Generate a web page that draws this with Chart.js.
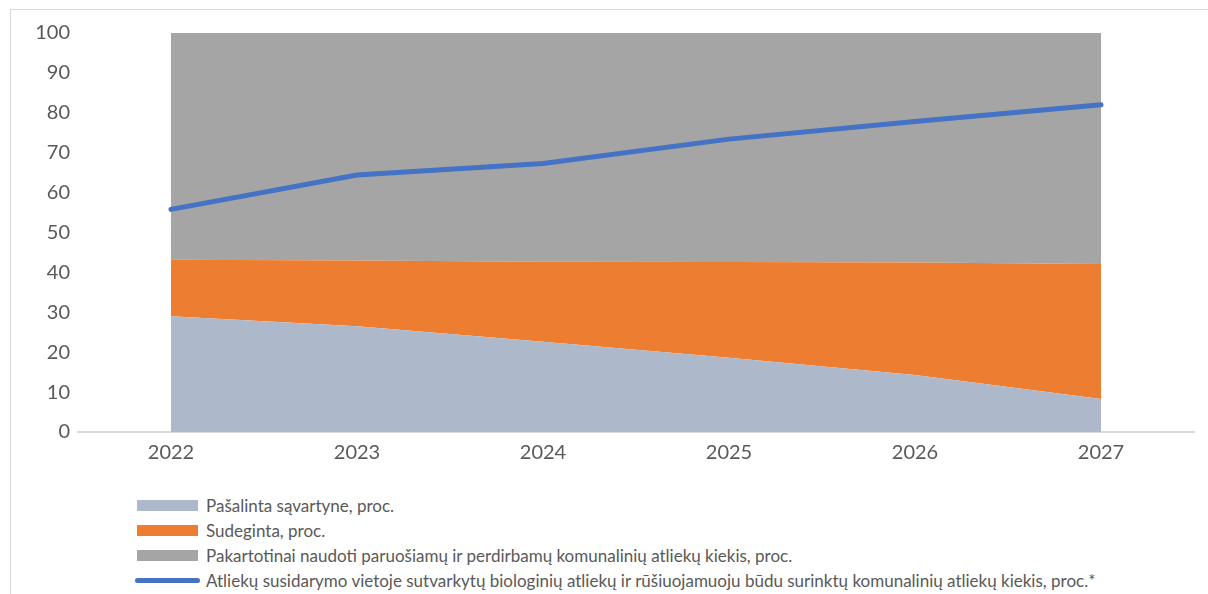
<!DOCTYPE html>
<html>
<head>
<meta charset="utf-8">
<script src="https://cdn.jsdelivr.net/npm/chart.js@4"></script>
<style>
  body { margin: 0; background: #fff; }
  #wrap { position: relative; width: 1208px; height: 594px; overflow: hidden; }
  #frame { position: absolute; left: 10px; top: 9px; width: 1300px; height: 700px;
    border-top: 1px solid #d9d9d9; border-left: 1px solid #d9d9d9; }
  #box { position: absolute; left: 0; top: 0; width: 1208px; height: 470px; }
  #legend { position: absolute; left: 135px; top: 493px; font-family: Lato, sans-serif;
    font-size: 17px; color: #595959; }
  .item { height: 25px; display: flex; align-items: center; }
  .sw { width: 61px; height: 11px; margin: 0 8px 0 2px; }
  .ln { width: 65px; height: 5px; border-radius: 3px; margin: 0 6px 0 0; }
</style>
</head>
<body>
<div id="wrap">
  <div id="frame"></div>
  <div id="box"><canvas id="chart"></canvas></div>
  <div id="legend"></div>
</div>
<script>
const years = ["2022", "2023", "2024", "2025", "2026", "2027"];
const landfilled = [29.0, 26.5, 22.6, 18.6, 14.3, 8.3];
const incinerated = [14.2, 16.5, 20.1, 24.0, 28.2, 33.8];
const recycled = [56.8, 57.0, 57.3, 57.4, 57.5, 57.9];
const bioAndSorted = [55.8, 64.4, 67.3, 73.4, 77.8, 82.0];

const labels = [
  "Pašalinta sąvartyne, proc.",
  "Sudeginta, proc.",
  "Pakartotinai naudoti paruošiamų ir perdirbamų komunalinių atliekų kiekis, proc.",
  "Atliekų susidarymo vietoje sutvarkytų biologinių atliekų ir rūšiuojamuoju būdu surinktų komunalinių atliekų kiekis, proc.*",
];
const colors = ["#adb9ca", "#ed7d31", "#a5a5a5", "#4472c4"];

const area = (i, data, fill) => ({
  label: labels[i],
  data: data,
  backgroundColor: colors[i],
  borderWidth: 0,
  pointRadius: 0,
  fill: fill,
  stack: "areas",
  tension: 0,
});

const chart = new Chart(document.getElementById("chart"), {
  type: "line",
  data: {
    labels: years,
    datasets: [
      area(0, landfilled, "origin"),
      area(1, incinerated, "-1"),
      area(2, recycled, "-1"),
      {
        label: labels[3],
        data: bioAndSorted,
        borderColor: colors[3],
        borderWidth: 5,
        borderCapStyle: "round",
        pointRadius: 0,
        fill: false,
        stack: "line",
        order: -1,
        tension: 0,
      },
    ],
  },
  options: {
    responsive: true,
    maintainAspectRatio: false,
    animation: false,
    layout: { padding: { top: 33, right: 14, left: 10, bottom: 0 } },
    plugins: { legend: { display: false }, tooltip: { enabled: false } },
    scales: {
      x: {
        offset: true,
        grid: { display: false, drawTicks: false },
        border: { display: true, color: "#d9d9d9", width: 2 },
        ticks: { color: "#595959", font: { family: "Lato", size: 20 }, padding: 9 },
        afterFit: (s) => { s.height = 38; },
      },
      y: {
        stacked: true,
        min: 0,
        max: 100,
        grid: { display: false, drawTicks: false },
        border: { display: false },
        ticks: { stepSize: 10, color: "#595959", font: { family: "Lato", size: 20 }, padding: 8 },
        afterFit: (s) => { s.width = 68; },
      },
    },
  },
});

// legend drawn as html, one row per dataset
const legend = document.getElementById("legend");
chart.data.datasets.forEach((ds, i) => {
  const row = document.createElement("div");
  row.className = "item";
  const mark = document.createElement("span");
  mark.className = i === 3 ? "ln" : "sw";
  mark.style.background = colors[i];
  const txt = document.createElement("span");
  txt.textContent = ds.label;
  row.appendChild(mark);
  row.appendChild(txt);
  legend.appendChild(row);
});
</script>
</body>
</html>
